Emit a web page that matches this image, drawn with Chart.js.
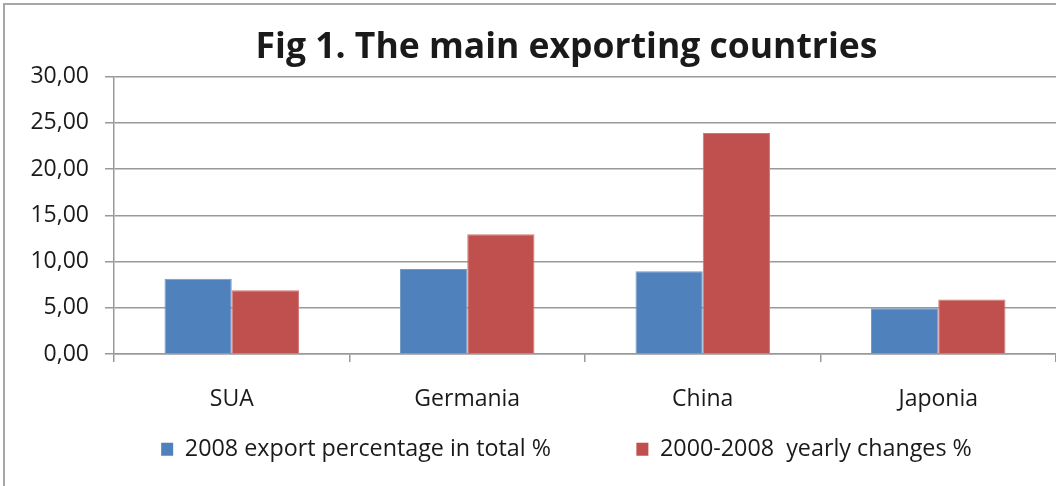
<!DOCTYPE html>
<html><head><meta charset="utf-8">
<script src="https://cdn.jsdelivr.net/npm/chart.js@4"></script>
<style>
html,body{margin:0;padding:0;width:1056px;height:486px;overflow:hidden;background:#fff;}
#frame{position:absolute;left:3px;top:3px;width:1130px;height:520px;border:2px solid #a6a6a6;}
#wrap{position:absolute;left:2px;top:2px;width:1119px;height:500px;}
</style></head>
<body>
<div id="frame"><div id="wrap"><canvas id="c"></canvas></div></div>
<script>
const categories = ['SUA', 'Germania', 'China', 'Japonia'];
const exportShare2008 = [8.15, 9.2, 8.95, 4.95];
const yearlyChange2000_2008 = [6.9, 12.95, 23.9, 5.9];
const seriesNames = ['2008 export percentage in total %', '2000-2008  yearly changes %'];
const yTicks = [0, 5, 10, 15, 20, 25, 30];

const FONT = "'Open Sans', sans-serif";
const GAP = '\u2002\u2002\u2002\u2002\u2002\u2002\u2002\u2009';
new Chart(document.getElementById('c'), {
  type: 'bar',
  data: {
    labels: categories,
    datasets: [
      {label: seriesNames[0], data: exportShare2008, backgroundColor: '#4F81BD', borderColor: '#7399C8', borderWidth: 1,
        categoryPercentage: 0.571, barPercentage: 1},
      {label: seriesNames[1], data: yearlyChange2000_2008, backgroundColor: '#C0504D', borderColor: '#CF7A78', borderWidth: 1,
        categoryPercentage: 0.571, barPercentage: 1}
    ]
  },
  options: {
    responsive: true, maintainAspectRatio: false, animation: false,
    layout: {padding: {left: 0, right: 0, top: 0, bottom: 36}},
    plugins: {
      title: {display: true, text: 'Fig 1. The main exporting countries', color: '#1a1a1a',
        font: {family: FONT, size: 35.5, weight: 'bold'}, padding: {top: 20, bottom: 7}},
      legend: {position: 'bottom', labels: {color: '#1a1a1a', font: {family: FONT, size: 23.3},
        boxWidth: 12, boxHeight: 13, padding: 0,
        generateLabels: ch => Chart.defaults.plugins.legend.labels.generateLabels(ch).map((l, i) => {
          l.lineWidth = 0;
          if (i === 0) l.text = l.text + GAP; return l; })}},
      tooltip: {enabled: false}
    },
    scales: {
      x: {
        grid: {display: true, offset: true, drawOnChartArea: false, tickLength: 8, color: '#999', lineWidth: 1.5},
        border: {color: '#999', width: 1.5},
        ticks: {color: '#1a1a1a', font: {family: FONT, size: 23}, padding: 24}
      },
      y: {
        min: 0, max: 30,
        afterBuildTicks: s => { s.ticks = yTicks.map(v => ({value: v})); },
        afterFit: s => { s.width = 107; },
        grid: {color: '#999', lineWidth: 1.5, tickLength: 9},
        border: {color: '#999', width: 1.5},
        ticks: {color: '#1a1a1a', font: {family: FONT, size: 23}, padding: 16,
          callback: v => v.toFixed(2).replace('.', ',')}
      },
      y2: {
        position: 'right', display: true, min: 0, max: 30,
        afterFit: s => { s.width = 70; },
        grid: {display: false}, border: {display: false}, ticks: {display: false}
      }
    }
  }
});
</script>
</body></html>
